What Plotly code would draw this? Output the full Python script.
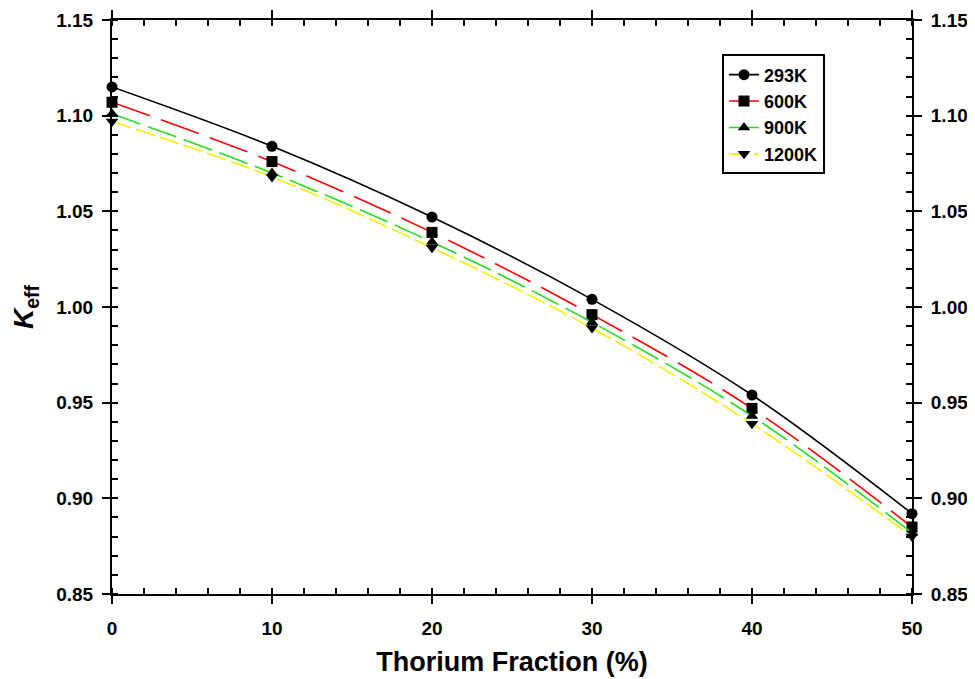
import plotly.graph_objects as go

thorium = [0, 10, 20, 30, 40, 50]
k_293 = [1.115, 1.084, 1.047, 1.004, 0.954, 0.892]
k_600 = [1.107, 1.076, 1.039, 0.996, 0.947, 0.885]
k_900 = [1.101, 1.070, 1.034, 0.992, 0.943, 0.882]
k_1200 = [1.097, 1.068, 1.031, 0.989, 0.939, 0.880]
series_names = ["293K", "600K", "900K", "1200K"]

styles = [
    ("black", "solid", "circle"),
    ("red", "40px,12px", "square"),
    ("#22dd22", "30px,8px", "triangle-up"),
    ("#f0f000", "20px,5px", "triangle-down"),
]

fig = go.Figure()
for name, vals, (col, dash, sym) in zip(series_names, [k_293, k_600, k_900, k_1200], styles):
    fig.add_trace(go.Scatter(
        x=thorium, y=vals, name=f"<b>{name}</b>", legendgroup=name,
        mode="lines+markers", cliponaxis=False,
        line=dict(color=col, width=1.6, dash=dash, shape="spline"),
        marker=dict(symbol=sym, size=11, color="black"),
    ))
# invisible trace for the right axis
fig.add_trace(go.Scatter(x=thorium, y=k_293, yaxis="y2", showlegend=False,
                         mode="markers", marker=dict(opacity=0), hoverinfo="skip"))

font_tick = dict(family="Arial, Liberation Sans", size=19, color="black", weight="bold")
yax = dict(
    range=[0.85, 1.15], dtick=0.05, tickformat=".2f", automargin=False,
    showgrid=False, zeroline=False, showline=True, linecolor="black", linewidth=2,
    ticks="outside", ticklen=8, tickwidth=2, tickcolor="black",
    tickfont=font_tick, ticklabelstandoff=5,
    minor=dict(dtick=0.01, ticks="inside", ticklen=6, tickwidth=1.5, tickcolor="black"),
)
fig.update_layout(
    width=967, height=671,
    margin=dict(l=104, r=63, t=12, b=85),
    plot_bgcolor="white", paper_bgcolor="white",
    font=dict(family="Arial, Liberation Sans", color="black"),
    xaxis=dict(
        range=[0, 50], dtick=10, showgrid=False, zeroline=False, automargin=False,
        showline=True, linecolor="black", linewidth=2, mirror="ticks",
        ticks="outside", ticklen=8, tickwidth=2, tickcolor="black",
        tickfont=font_tick, ticklabelstandoff=8,
        minor=dict(dtick=2, ticks="inside", ticklen=6, tickwidth=1.5, tickcolor="black"),
        title=dict(text="<b>Thorium Fraction (%)</b>", font=dict(size=27), standoff=14),
    ),
    yaxis=dict(**yax, title=dict(text="<b><i>K</i><sub>eff</sub></b>", font=dict(size=28), standoff=18)),
    yaxis2=dict(**yax, overlaying="y", side="right"),
    legend=dict(
        x=0.7625, y=0.94, xanchor="left", yanchor="top",
        bordercolor="black", borderwidth=2, bgcolor="white",
        font=dict(family="Arial, Liberation Sans", size=18, color="black"),
        tracegroupgap=0,
    ),
)

fig.write_html("out.html")
